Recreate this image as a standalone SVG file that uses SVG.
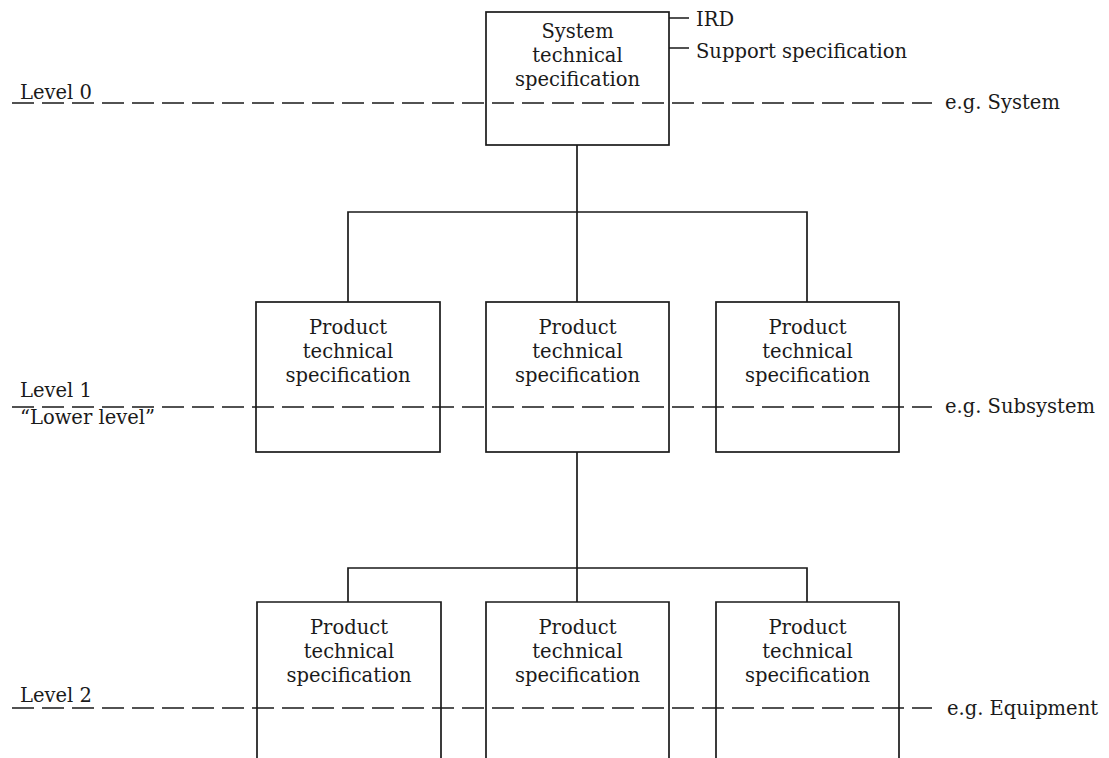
<svg xmlns="http://www.w3.org/2000/svg" width="1109" height="758" viewBox="0 0 1109 758">
  <style>
    .box { fill: none; stroke: #1a1a1a; stroke-width: 1.7; }
    .link { fill: none; stroke: #1a1a1a; stroke-width: 1.7; }
    .level { fill: none; stroke: #1a1a1a; stroke-width: 1.7; stroke-dasharray: 22 8; }
    text { font-family: "DejaVu Serif", "Liberation Serif", serif; font-size: 19.5px; fill: #1a1a1a; }
    .c { text-anchor: middle; }
  </style>
  <rect width="1109" height="758" fill="#ffffff"/>

  <!-- level separators -->
  <g id="levels">
    <line class="level" x1="12" y1="103" x2="932" y2="103"/>
    <line class="level" x1="12" y1="407" x2="932" y2="407"/>
    <line class="level" x1="12" y1="708" x2="932" y2="708"/>
    <text x="20" y="99">Level 0</text>
    <text x="20" y="397">Level 1</text>
    <text x="20" y="424">“Lower level”</text>
    <text x="20" y="702">Level 2</text>
    <text x="945" y="109">e.g. System</text>
    <text x="945" y="413">e.g. Subsystem</text>
    <text x="947" y="715">e.g. Equipment</text>
  </g>

  <!-- tree connectors -->
  <g id="connectors">
    <path class="link" d="M577 145 V212 M348 302 V212 H807 V302 M577 212 V302"/>
    <path class="link" d="M577 452 V568 M348 602 V568 H807 V602 M577 568 V602"/>
    <path class="link" d="M669 18 H689 M669 48 H689"/>
  </g>

  <g id="system">
    <rect class="box" x="486" y="12" width="183" height="133"/>
    <text class="c" x="577.5" y="38">System</text>
    <text class="c" x="577.5" y="62">technical</text>
    <text class="c" x="577.5" y="86">specification</text>
  </g>
  <g id="ird-note">
    <text x="696" y="26">IRD</text>
    <text x="696" y="58">Support specification</text>
  </g>

  <g id="product-1a">
    <rect class="box" x="256" y="302" width="184" height="150"/>
    <text class="c" x="348" y="334">Product</text>
    <text class="c" x="348" y="358">technical</text>
    <text class="c" x="348" y="382">specification</text>
  </g>
  <g id="product-1b">
    <rect class="box" x="486" y="302" width="183" height="150"/>
    <text class="c" x="577.5" y="334">Product</text>
    <text class="c" x="577.5" y="358">technical</text>
    <text class="c" x="577.5" y="382">specification</text>
  </g>
  <g id="product-1c">
    <rect class="box" x="716" y="302" width="183" height="150"/>
    <text class="c" x="807.5" y="334">Product</text>
    <text class="c" x="807.5" y="358">technical</text>
    <text class="c" x="807.5" y="382">specification</text>
  </g>

  <g id="product-2a">
    <path class="box" d="M257 760 V602 H441 V760"/>
    <text class="c" x="349" y="634">Product</text>
    <text class="c" x="349" y="658">technical</text>
    <text class="c" x="349" y="682">specification</text>
  </g>
  <g id="product-2b">
    <path class="box" d="M486 760 V602 H669 V760"/>
    <text class="c" x="577.5" y="634">Product</text>
    <text class="c" x="577.5" y="658">technical</text>
    <text class="c" x="577.5" y="682">specification</text>
  </g>
  <g id="product-2c">
    <path class="box" d="M716 760 V602 H899 V760"/>
    <text class="c" x="807.5" y="634">Product</text>
    <text class="c" x="807.5" y="658">technical</text>
    <text class="c" x="807.5" y="682">specification</text>
  </g>
</svg>
